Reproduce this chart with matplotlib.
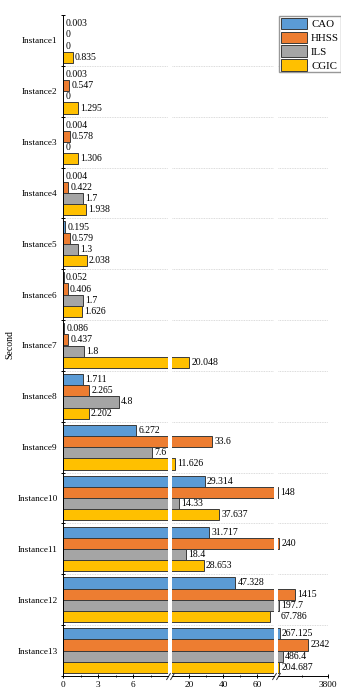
import matplotlib
matplotlib.use('Agg')
import matplotlib.pyplot as plt
import numpy as np

plt.rcParams['font.family'] = ['Liberation Serif', 'DejaVu Serif']

# data (seconds)
instances = ['Instance%d' % i for i in range(1, 14)]
methods = ['CAO', 'HHSS', 'ILS', 'CGIC']
cao = [0.003, 0.003, 0.004, 0.004, 0.195, 0.052, 0.086, 1.711, 6.272, 29.314, 31.717, 47.328, 267.125]
hhss = [0, 0.547, 0.578, 0.422, 0.579, 0.406, 0.437, 2.265, 33.6, 148, 240, 1415, 2342]
ils = [0, 0, 0, 1.7, 1.3, 1.7, 1.8, 4.8, 7.6, 14.33, 18.4, 197.7, 486.4]
cgic = [0.835, 1.295, 1.306, 1.938, 2.038, 1.626, 20.048, 2.202, 11.626, 37.637, 28.653, 67.786, 204.687]
series = [cao, hhss, ils, cgic]
colors = ['#5b9bd5', '#ed7d31', '#a5a5a5', '#ffc000']

# broken x axis: three segments
limits = [(0, 9), (10, 70), (100, 3800)]
boxes = [(63, 168), (172, 274), (277.5, 328)]   # pixel spans
major = [[0, 3, 6], [20, 40, 60], [3800]]
minor = [[1.5, 4.5, 7.5], [30, 50], [1900]]

W, H = 341, 700
fig = plt.figure(figsize=(W / 100, H / 100), dpi=100)
top_px, bot_px = 15, 676

n = len(instances)
bh = 0.22
fs = 6.7
vfs = 7.0

axes = []
for k, (lo, hi) in enumerate(limits):
    x0, x1 = boxes[k]
    ax = fig.add_axes([x0 / W, 1 - bot_px / H, (x1 - x0) / W, (bot_px - top_px) / H])
    ax.patch.set_alpha(0)
    axes.append(ax)

for k, (lo, hi) in enumerate(limits):
    ax = axes[k]
    for j, vals in enumerate(series):
        y = np.arange(n) + 0.06 + bh / 2 + j * bh
        ax.barh(y, vals, height=bh, color=colors[j], edgecolor='#3a3a3a',
                linewidth=0.7, label=methods[j], zorder=2)
        for yi, v in zip(y, vals):
            seg = max(i for i, l in enumerate(limits) if l[0] <= v)
            # labels of bars ending right at a break sit after the break
            if seg < len(limits) - 1 and v > limits[seg][1] - 0.06 * (limits[seg][1] - limits[seg][0]):
                if seg + 1 == k:
                    ax.annotate('{:g}'.format(v), xy=(lo, yi), xytext=(2.5, 0),
                                textcoords='offset points', va='center', ha='left',
                                fontsize=vfs, annotation_clip=False)
                continue
            if seg == k:
                ax.annotate('{:g}'.format(v), xy=(v, yi), xytext=(1.6, 0),
                            textcoords='offset points', va='center', ha='left',
                            fontsize=vfs, annotation_clip=False)
    for b in range(1, n):
        ax.axhline(b, color='#cfcfcf', linestyle=(0, (1, 1)), linewidth=0.6, zorder=0)
    ax.set_xlim(lo, hi)
    ax.set_ylim(n, 0)
    ax.set_xticks(major[k])
    ax.set_xticks(minor[k], minor=True)
    ax.tick_params(axis='x', which='major', direction='inout', length=3.5, width=0.7,
                   labelsize=fs, pad=2)
    ax.tick_params(axis='x', which='minor', direction='inout', length=2, width=0.6)
    for s in ['top', 'right']:
        ax.spines[s].set_visible(False)
    ax.spines['bottom'].set_linewidth(0.7)
    if k == 0:
        ax.spines['left'].set_linewidth(0.7)
        ax.set_yticks(np.arange(n + 1))
        ax.set_yticklabels([])
        ax.set_yticks(np.arange(n) + 0.5, minor=True)
        ax.set_yticklabels(instances, minor=True)
        ax.tick_params(axis='y', which='major', direction='inout', length=3.5, width=0.7)
        ax.tick_params(axis='y', which='minor', length=0, labelsize=fs, pad=4)
    else:
        ax.spines['left'].set_visible(False)
        ax.set_yticks([])

# break marks on the bottom axis
kw = dict(marker=[(-0.6, -1), (0.6, 1)], markersize=5, linestyle='none',
          color='#333333', mew=0.7, clip_on=False)
for k in range(len(axes) - 1):
    axes[k].plot([1], [0], transform=axes[k].transAxes, **kw)
    axes[k + 1].plot([0], [0], transform=axes[k + 1].transAxes, **kw)

fig.text(10 / W, 1 - 345 / H, 'Second', rotation=90, va='center', ha='center', fontsize=7)

handles, labels = axes[0].get_legend_handles_labels()
fig.legend(handles, labels, loc='upper right', bbox_to_anchor=(0.999, 0.977),
           fontsize=7.8, frameon=True, fancybox=False, edgecolor='#7f7f7f',
           borderpad=0.15, labelspacing=0.22, handlelength=2.4, handleheight=1.25,
           handletextpad=0.4, borderaxespad=0)

fig.savefig('out.png', dpi=100)
